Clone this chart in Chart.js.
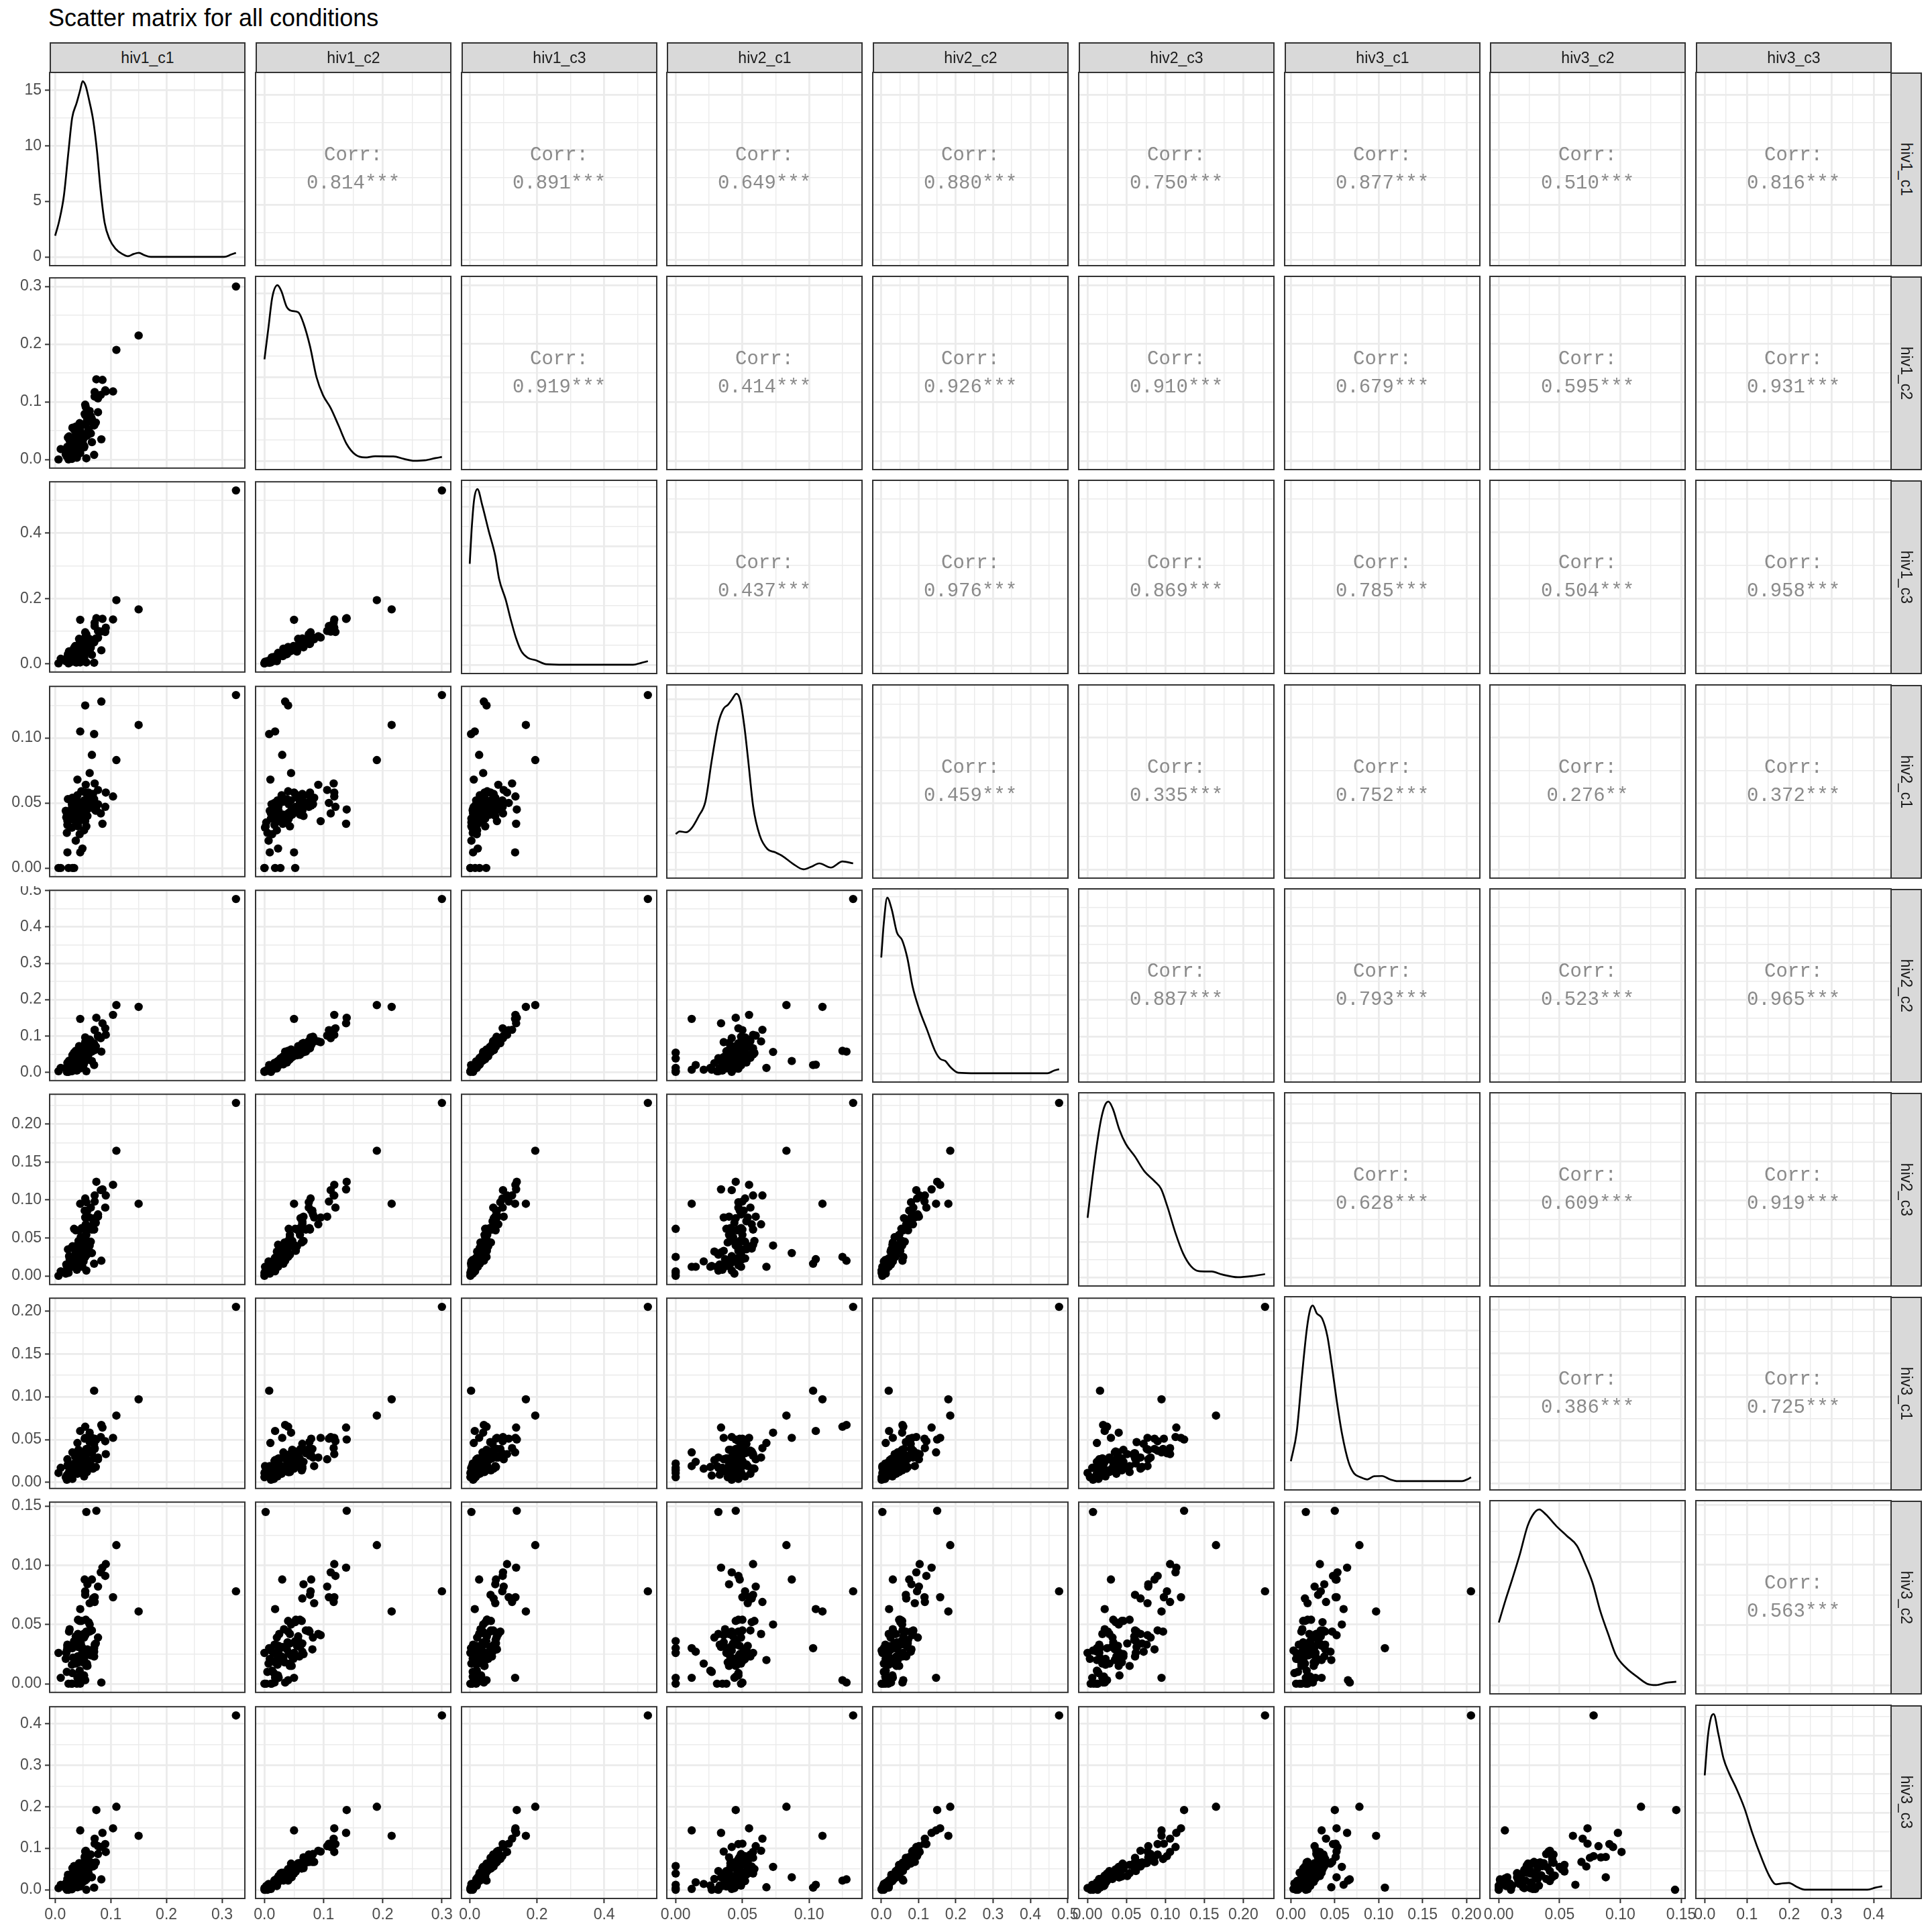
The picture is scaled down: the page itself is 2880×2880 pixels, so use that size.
<!DOCTYPE html>
<html><head><meta charset="utf-8">
<script src="https://cdn.jsdelivr.net/npm/chart.js@4.4.1/dist/chart.umd.min.js"></script>
<style>
html,body{margin:0;padding:0;background:#fff;}
#root{position:relative;width:2880px;height:2880px;background:#fff;overflow:hidden;font-family:"Liberation Sans",Arial,sans-serif;}
.title{position:absolute;left:72px;top:9px;font-size:36px;line-height:36px;color:#000;white-space:nowrap;}
.strip{position:absolute;background:#D9D9D9;border:2px solid #333;box-sizing:border-box;display:flex;align-items:center;justify-content:center;color:#1A1A1A;font-size:23px;}
.strip span{white-space:nowrap;display:block;}
.strip.r span{transform:rotate(90deg);}
canvas{position:absolute;}
</style></head>
<body><div id="root"><div class="title">Scatter matrix for all conditions</div></div>
<script>
// ---------------- DATA ----------------
const variables = ['hiv1_c1','hiv1_c2','hiv1_c3','hiv2_c1','hiv2_c2','hiv2_c3','hiv3_c1','hiv3_c2','hiv3_c3'];

const hiv1_c1 = [0.006,0.030,0.024,0.021,0.021,0.039,0.022,0.019,0.037,0.045,
 0.031,0.010,0.022,0.043,0.044,0.030,0.020,0.049,0.042,0.022,
 0.040,0.051,0.030,0.052,0.052,0.032,0.046,0.040,0.026,0.023,0.041,
 0.052,0.031,0.025,0.057,0.050,0.040,0.058,0.041,0.042,0.046,
 0.060,0.036,0.041,0.031,0.056,0.060,0.036,0.054,0.047,
 0.034,0.055,0.042,0.064,0.057,0.044,0.037,0.066,0.070,
 0.071,0.068,0.062,0.048,0.070,0.043,0.054,
 0.058,0.073,0.053,0.064,0.058,0.062,
 0.056,0.054,0.055,0.077,
 0.054,0.077,0.082,
 0.091,0.090,
 0.071,0.071,
 0.085,
 0.104,
 0.325,0.150,0.110,0.074,0.056,0.054,0.083,0.070,0.062,0.066,0.045,0.040,0.045];

const hiv1_c2 = [0.000,0.001,0.000,0.005,0.011,0.003,0.009,0.009,0.007,0.011,
 0.016,0.018,0.017,0.021,0.013,0.012,0.015,0.023,0.018,0.022,
 0.017,0.025,0.022,0.021,0.022,0.032,0.024,0.024,0.033,0.038,0.031,
 0.023,0.027,0.040,0.041,0.034,0.029,0.046,0.043,0.032,0.043,
 0.050,0.039,0.053,0.055,0.043,0.052,0.049,0.041,0.040,
 0.052,0.060,0.047,0.045,0.066,0.063,0.057,0.070,0.059,
 0.061,0.064,0.076,0.060,0.064,0.057,0.077,
 0.081,0.064,0.079,0.075,0.066,0.084,
 0.075,0.095,0.091,0.082,
 0.078,0.106,0.112,
 0.118,0.120,
 0.117,0.109,
 0.138,
 0.118,
 0.300,0.215,0.190,0.139,0.002,0.040,0.035,0.008,0.045,0.030,0.018,0.010,0.050];

const hiv1_c3 = [0.002,0.007,0.002,0.009,0.010,0.005,0.010,0.009,0.005,0.005,
 0.012,0.016,0.010,0.009,0.021,0.019,0.017,0.024,0.019,0.020,
 0.022,0.028,0.020,0.022,0.019,0.030,0.032,0.024,0.032,0.030,0.024,
 0.034,0.029,0.039,0.037,0.032,0.030,0.043,0.046,0.047,0.046,
 0.044,0.039,0.051,0.038,0.044,0.047,0.055,0.046,0.052,
 0.049,0.052,0.050,0.050,0.051,0.063,0.051,0.063,0.066,
 0.072,0.071,0.061,0.060,0.068,0.077,0.062,
 0.081,0.078,0.078,0.070,0.076,0.076,
 0.091,0.081,0.085,0.080,
 0.097,0.101,0.099,
 0.111,0.098,
 0.126,0.116,
 0.138,
 0.136,
 0.530,0.167,0.195,0.140,0.005,0.050,0.042,0.004,0.040,0.028,0.015,0.012,0.135];

const hiv2_c1 = [0.000,0.031,0.000,0.027,0.042,0.035,0.012,0.044,0.021,0.038,
 0.047,0.000,0.033,0.045,0.026,0.049,0.039,0.015,0.043,0.036,
 0.050,0.040,0.046,0.029,0.052,0.041,0.048,0.044,0.037,0.053,0.034,
 0.047,0.000,0.042,0.049,0.039,0.056,0.045,0.032,0.051,0.043,
 0.058,0.036,0.047,0.054,0.040,0.057,0.046,0.038,0.059,
 0.000,0.050,0.041,0.052,0.048,0.045,0.043,0.050,0.047,
 0.045,0.057,0.049,0.041,0.053,0.046,0.058,
 0.051,0.044,0.048,0.056,0.040,0.054,
 0.047,0.036,0.064,0.049,
 0.052,0.060,0.042,
 0.058,0.047,
 0.065,0.050,
 0.034,
 0.055,
 0.133,0.110,0.083,0.045,0.032,0.125,0.128,0.103,0.073,0.087,0.105,0.068,0.012];

const hiv2_c2 = [0.003,0.003,0.001,0.007,0.001,0.005,0.007,0.012,0.007,0.011,
 0.010,0.012,0.011,0.011,0.012,0.019,0.013,0.020,0.023,0.026,
 0.026,0.020,0.020,0.025,0.030,0.022,0.032,0.031,0.031,0.027,0.030,
 0.030,0.038,0.032,0.034,0.031,0.040,0.041,0.039,0.044,0.036,
 0.049,0.042,0.051,0.047,0.048,0.051,0.044,0.058,0.053,
 0.054,0.048,0.056,0.063,0.055,0.056,0.059,0.057,0.067,
 0.061,0.067,0.066,0.070,0.079,0.072,0.066,
 0.081,0.071,0.075,0.086,0.081,0.090,
 0.080,0.083,0.085,0.098,
 0.096,0.101,0.094,
 0.103,0.121,
 0.117,0.116,
 0.135,
 0.158,
 0.477,0.180,0.185,0.150,0.003,0.059,0.057,0.020,0.056,0.031,0.021,0.012,0.147];

const hiv2_c3 = [0.000,0.012,0.004,0.013,0.007,0.008,0.012,0.003,0.019,0.013,
 0.014,0.006,0.015,0.021,0.012,0.012,0.015,0.012,0.024,0.015,
 0.022,0.019,0.023,0.032,0.023,0.016,0.033,0.019,0.022,0.035,0.031,
 0.041,0.025,0.026,0.028,0.044,0.037,0.040,0.028,0.035,0.051,
 0.041,0.033,0.033,0.039,0.054,0.036,0.039,0.062,0.046,
 0.062,0.054,0.046,0.045,0.046,0.044,0.060,0.061,0.061,
 0.076,0.068,0.063,0.063,0.072,0.060,0.061,
 0.086,0.070,0.086,0.090,0.078,0.077,
 0.097,0.077,0.068,0.081,
 0.102,0.078,0.113,
 0.106,0.090,
 0.106,0.098,
 0.114,
 0.120,
 0.228,0.095,0.165,0.124,0.007,0.025,0.020,0.016,0.040,0.030,0.022,0.012,0.095];

const hiv3_c1 = [0.011,0.019,0.006,0.008,0.003,0.017,0.019,0.006,0.016,0.012,
 0.004,0.017,0.009,0.022,0.018,0.010,0.006,0.024,0.026,0.027,
 0.025,0.021,0.012,0.026,0.007,0.015,0.018,0.028,0.013,0.021,0.016,
 0.019,0.014,0.012,0.012,0.028,0.010,0.026,0.029,0.035,0.033,
 0.016,0.014,0.023,0.035,0.012,0.036,0.030,0.028,0.016,
 0.022,0.019,0.038,0.020,0.024,0.014,0.034,0.034,0.028,
 0.039,0.016,0.047,0.027,0.045,0.031,0.031,
 0.039,0.018,0.051,0.037,0.038,0.019,
 0.039,0.052,0.029,0.029,
 0.034,0.027,0.053,
 0.033,0.048,
 0.040,0.051,
 0.064,
 0.052,
 0.205,0.097,0.078,0.050,0.017,0.065,0.067,0.107,0.058,0.052,0.060,0.046,0.035];

const hiv3_c2 = [0.026,0.000,0.000,0.010,0.028,0.000,0.030,0.021,0.017,0.000,
 0.009,0.005,0.033,0.006,0.011,0.000,0.026,0.027,0.018,0.032,
 0.001,0.042,0.016,0.039,0.021,0.022,0.032,0.005,0.046,0.029,0.031,
 0.007,0.030,0.044,0.017,0.018,0.023,0.015,0.042,0.020,0.034,
 0.026,0.035,0.054,0.032,0.015,0.052,0.021,0.026,0.053,
 0.036,0.054,0.023,0.024,0.025,0.053,0.040,0.045,0.023,
 0.033,0.072,0.044,0.031,0.027,0.037,0.075,
 0.029,0.034,0.088,0.045,0.084,0.068,
 0.044,0.041,0.042,0.039,
 0.078,0.082,0.094,
 0.101,0.091,
 0.069,0.073,
 0.098,
 0.073,
 0.078,0.061,0.117,0.146,0.145,0.003,0.001,0.030,0.050,0.088,0.063,0.020,0.005];

const hiv3_c3 = [0.004,0.001,0.000,0.000,0.002,0.009,0.002,0.004,0.014,0.008,
 0.015,0.012,0.010,0.009,0.010,0.010,0.017,0.018,0.019,0.026,
 0.023,0.021,0.022,0.026,0.021,0.022,0.033,0.027,0.034,0.036,0.030,
 0.030,0.039,0.030,0.026,0.032,0.041,0.030,0.045,0.041,0.033,
 0.039,0.035,0.044,0.052,0.040,0.049,0.048,0.045,0.050,
 0.057,0.060,0.057,0.063,0.052,0.051,0.054,0.065,0.058,
 0.064,0.056,0.067,0.064,0.063,0.064,0.077,
 0.067,0.066,0.079,0.085,0.078,0.067,
 0.074,0.092,0.094,0.086,
 0.081,0.105,0.103,
 0.091,0.110,
 0.123,0.111,
 0.137,
 0.148,
 0.420,0.130,0.200,0.192,0.000,0.022,0.025,0.005,0.055,0.030,0.012,0.006,0.143];

// axis tick labels (major breaks) per variable
const tick_hiv1_c1 = ['0.0','0.1','0.2','0.3'];
const tick_hiv1_c2 = ['0.0','0.1','0.2','0.3'];
const tick_hiv1_c3 = ['0.0','0.2','0.4'];
const tick_hiv2_c1 = ['0.00','0.05','0.10'];
const tick_hiv2_c2 = ['0.0','0.1','0.2','0.3','0.4','0.5'];
const tick_hiv2_c3 = ['0.00','0.05','0.10','0.15','0.20'];
const tick_hiv3_c1 = ['0.00','0.05','0.10','0.15','0.20'];
const tick_hiv3_c2 = ['0.00','0.05','0.10','0.15'];
const tick_hiv3_c3 = ['0.0','0.1','0.2','0.3','0.4'];
const densTick_hiv1_c1 = ['0','5','10','15'];

// density curves (x, density)
const densX_hiv1_c1 = [0,0.0074,0.0156,0.0239,0.0305,0.0383,0.0444,0.0494,0.0547,0.061,0.0683,0.0753,0.0815,0.0889,0.098,0.108,0.1206,0.131,0.141,0.1506,0.16,0.172,0.20,0.25,0.3037,0.316,0.325];
const densY_hiv1_c1 = [1.9,3.27,5.47,9.48,12.5,13.8,14.9,15.8,15.4,14.1,12.3,9.48,6.08,3.07,1.56,0.76,0.26,0.06,0.26,0.36,0.16,0,0,0,0,0.2,0.36];
const densX_hiv1_c2 = [0,0.0066,0.0132,0.022,0.0286,0.0374,0.0454,0.0573,0.066,0.077,0.088,0.099,0.112,0.1256,0.139,0.154,0.17,0.187,0.218,0.236,0.253,0.271,0.289,0.30];
const densY_hiv1_c2 = [6.07,7.92,9.77,10.5,10.14,9.22,8.97,8.87,8.22,6.85,5.0,3.92,3.15,2.08,1.0,0.36,0.2,0.27,0.26,0.11,0.0,0.03,0.16,0.23];
const densX_hiv1_c3 = [0,0.0055,0.013,0.023,0.037,0.056,0.076,0.0875,0.107,0.1227,0.138,0.154,0.173,0.197,0.228,0.283,0.486,0.509,0.53];
const densY_hiv1_c3 = [6.38,8.49,10.43,11.1,10.1,8.49,6.87,5.41,4.11,2.8,1.67,0.84,0.44,0.28,0.03,0,0,0.11,0.23];
const densX_hiv2_c1 = [0,0.0029,0.0078,0.0116,0.0174,0.0223,0.0271,0.032,0.0359,0.0393,0.042,0.0455,0.0484,0.0514,0.0543,0.0581,0.063,0.0688,0.0746,0.0804,0.0882,0.0959,0.1017,0.1076,0.1163,0.125,0.133];
const densY_hiv2_c1 = [5.19,5.57,5.44,5.96,7.87,9.98,16.1,21.5,23.6,24.2,24.9,25.8,24.8,21.1,16.1,9.21,4.98,2.97,2.5,1.91,0.77,0,0.39,0.88,0.26,1.16,0.88];
const densX_hiv2_c2 = [0,0.007,0.016,0.028,0.042,0.056,0.07,0.084,0.102,0.123,0.144,0.158,0.172,0.186,0.207,0.256,0.446,0.463,0.477];
const densY_hiv2_c2 = [7.38,9.63,11.2,10.46,8.98,8.49,7.35,5.54,4.07,2.76,1.44,0.92,0.78,0.38,0.03,0,0,0.17,0.26];
const densX_hiv2_c3 = [0,0.0057,0.0124,0.0174,0.0224,0.0268,0.0325,0.0408,0.049,0.0609,0.0726,0.086,0.0944,0.1027,0.1128,0.1228,0.1329,0.143,0.1596,0.173,0.193,0.213,0.228];
const densY_hiv2_c3 = [4.19,6.78,9.52,11.16,12.15,12.4,11.89,10.43,9.42,8.52,7.51,6.78,6.24,4.96,3.14,1.67,0.77,0.43,0.4,0.19,0,0.09,0.22];
const densX_hiv3_c1 = [0,0.0067,0.0127,0.0182,0.0218,0.0249,0.0294,0.0355,0.0416,0.0461,0.0522,0.0583,0.0658,0.0719,0.0795,0.0871,0.0947,0.1038,0.1129,0.122,0.1948,0.2008,0.205];
const densY_hiv3_c1 = [2.63,6.57,14.07,20.22,22.69,23.3,22.27,21.6,19.2,15.77,10.65,6.22,2.47,1.03,0.51,0.23,0.65,0.68,0.23,0,0,0.23,0.51];
const densX_hiv3_c2 = [0,0.0056,0.0109,0.0173,0.0237,0.029,0.0333,0.0387,0.0472,0.0558,0.0643,0.0707,0.0771,0.0835,0.09,0.0964,0.1049,0.1135,0.122,0.1295,0.138,0.146];
const densY_hiv3_c2 = [5.09,6.94,8.57,10.64,12.96,14.0,14.3,13.89,12.96,12.16,11.34,9.95,8.34,6.02,4.16,2.43,1.39,0.7,0.11,0,0.19,0.27];
const densX_hiv3_c3 = [0,0.0074,0.0149,0.0211,0.0322,0.0446,0.057,0.0755,0.0941,0.1127,0.1344,0.1529,0.1684,0.1839,0.1994,0.218,0.2365,0.385,0.4037,0.42];
const densY_hiv3_c3 = [7.42,9.93,11.18,11.4,10.11,8.5,7.6,6.53,5.28,3.67,2.06,0.89,0.35,0.41,0.44,0.18,0,0,0.13,0.22];

// correlation labels (upper triangle, per row variable vs later variables)
const corr_hiv1_c1 = ['0.814***','0.891***','0.649***','0.880***','0.750***','0.877***','0.510***','0.816***'];
const corr_hiv1_c2 = ['0.919***','0.414***','0.926***','0.910***','0.679***','0.595***','0.931***'];
const corr_hiv1_c3 = ['0.437***','0.976***','0.869***','0.785***','0.504***','0.958***'];
const corr_hiv2_c1 = ['0.459***','0.335***','0.752***','0.276**','0.372***'];
const corr_hiv2_c2 = ['0.887***','0.793***','0.523***','0.965***'];
const corr_hiv2_c3 = ['0.628***','0.609***','0.919***'];
const corr_hiv3_c1 = ['0.386***','0.725***'];
const corr_hiv3_c2 = ['0.563***'];

// ---------------- BUILD ----------------
const values = {hiv1_c1,hiv1_c2,hiv1_c3,hiv2_c1,hiv2_c2,hiv2_c3,hiv3_c1,hiv3_c2,hiv3_c3};
const ticks = {hiv1_c1:tick_hiv1_c1,hiv1_c2:tick_hiv1_c2,hiv1_c3:tick_hiv1_c3,hiv2_c1:tick_hiv2_c1,hiv2_c2:tick_hiv2_c2,hiv2_c3:tick_hiv2_c3,hiv3_c1:tick_hiv3_c1,hiv3_c2:tick_hiv3_c2,hiv3_c3:tick_hiv3_c3};
const densX = {hiv1_c1:densX_hiv1_c1,hiv1_c2:densX_hiv1_c2,hiv1_c3:densX_hiv1_c3,hiv2_c1:densX_hiv2_c1,hiv2_c2:densX_hiv2_c2,hiv2_c3:densX_hiv2_c3,hiv3_c1:densX_hiv3_c1,hiv3_c2:densX_hiv3_c2,hiv3_c3:densX_hiv3_c3};
const densY = {hiv1_c1:densY_hiv1_c1,hiv1_c2:densY_hiv1_c2,hiv1_c3:densY_hiv1_c3,hiv2_c1:densY_hiv2_c1,hiv2_c2:densY_hiv2_c2,hiv2_c3:densY_hiv2_c3,hiv3_c1:densY_hiv3_c1,hiv3_c2:densY_hiv3_c2,hiv3_c3:densY_hiv3_c3};
const corrs = {hiv1_c1:corr_hiv1_c1,hiv1_c2:corr_hiv1_c2,hiv1_c3:corr_hiv1_c3,hiv2_c1:corr_hiv2_c1,hiv2_c2:corr_hiv2_c2,hiv2_c3:corr_hiv2_c3,hiv3_c1:corr_hiv3_c1,hiv3_c2:corr_hiv3_c2};

const N = variables.length;
const P_X0 = 74, P_DX = 306.75, P_W = 291, P_Y0 = 108, P_DY = 304.2, P_H = 288;
const panelLeft = c => Math.round(P_X0 + P_DX * c);
const panelTop = r => Math.round(P_Y0 + P_DY * r);
const root = document.getElementById('root');

function extent(arr){
  const lo = Math.min(...arr), hi = Math.max(...arr), e = (hi - lo) * 0.05;
  return [lo - e, hi + e];
}
function breaksFromLabels(labels, lo, hi){
  const all = labels.map(Number);
  const step = all[1] - all[0];
  const maj = [], lab = [];
  all.forEach((v,i)=>{ if (v >= lo - 1e-9 && v <= hi + 1e-9){ maj.push(v); lab.push(labels[i]); } });
  const min = [];
  for (let k = -2; k < all.length + 2; k++){
    const v = +(all[0] + (k + 0.5) * step).toFixed(6);
    if (v >= lo && v <= hi) min.push(v);
  }
  return {maj, min, labels: lab};
}
function niceStep(lo, hi){
  let best = null;
  for (let e = -4; e <= 3; e++){
    for (const m of [1,2,2.5,5]){
      const s = m * Math.pow(10, e);
      const n = Math.floor(hi / s) - Math.ceil(lo / s) + 1;
      if (n < 3 || n > 7) continue;
      const score = Math.abs(n - 5) + (m === 2.5 ? 0.5 : 0);
      if (!best || score < best.score) best = {s, score};
    }
  }
  return best ? best.s : (hi - lo) / 4;
}
function densBreaks(lo, hi){
  const s = niceStep(lo, hi);
  const maj = [], min = [];
  for (let k = Math.ceil(lo / s); k * s <= hi + 1e-9; k++) maj.push(+(k * s).toFixed(6));
  for (let k = Math.floor(lo / s) - 1; (k + 0.5) * s <= hi; k++){
    const v = +((k + 0.5) * s).toFixed(6);
    if (v >= lo) min.push(v);
  }
  return {maj, min, labels: maj.map(String)};
}
function scaleCfg(axis, lo, hi, br, showLabels, size){
  const isMaj = v => br.maj.some(m => Math.abs(m - v) < 1e-9);
  return {
    type: 'linear', min: lo, max: hi, display: true,
    afterBuildTicks(s){ s.ticks = br.maj.concat(br.min).sort((a,b)=>a-b).map(v => ({value: v})); },
    afterFit(s){
      if (axis === 'x') s.height = size; else s.width = size;
      s.paddingLeft = 0; s.paddingRight = 0; s.paddingTop = 0; s.paddingBottom = 0;
    },
    grid: {
      display: true, drawOnChartArea: true, color: '#EBEBEB',
      lineWidth: c => (c.tick && isMaj(c.tick.value)) ? 2.8 : 1.4,
      drawTicks: showLabels, tickLength: 7, tickWidth: 2,
      tickColor: c => (c.tick && isMaj(c.tick.value)) ? '#333333' : 'rgba(0,0,0,0)'
    },
    border: {display: false},
    ticks: {
      display: showLabels, autoSkip: false, maxRotation: 0, minRotation: 0,
      padding: axis === 'x' ? 4 : 5, color: '#4D4D4D',
      font: {family: '"Liberation Sans", Arial, sans-serif', size: 23},
      callback: v => { const i = br.maj.findIndex(m => Math.abs(m - v) < 1e-9); return i >= 0 ? br.labels[i] : ''; }
    }
  };
}

const panelPlugin = {
  id: 'panel',
  beforeDraw(chart){
    const {ctx, chartArea: a} = chart;
    ctx.save(); ctx.fillStyle = '#FFFFFF';
    ctx.fillRect(a.left, a.top, a.right - a.left, a.bottom - a.top);
    ctx.restore();
  },
  afterDraw(chart){
    const {ctx, chartArea: a} = chart;
    const o = chart.options.plugins.panel || {};
    ctx.save();
    if (o.corr){
      const cx = (a.left + a.right) / 2, cy = (a.top + a.bottom) / 2;
      ctx.fillStyle = '#8A8A8A';
      ctx.font = '29px "Liberation Mono", "DejaVu Sans Mono", monospace';
      ctx.textAlign = 'center'; ctx.textBaseline = 'middle';
      ctx.fillText('Corr:', cx, cy - 21);
      ctx.fillText(o.corr, cx, cy + 21);
    }
    ctx.strokeStyle = '#333333'; ctx.lineWidth = 2;
    ctx.strokeRect(a.left, a.top, a.right - a.left, a.bottom - a.top);
    ctx.restore();
  }
};

for (let r = 0; r < N; r++){
  for (let c = 0; c < N; c++){
    const xv = variables[c], yv = variables[r];
    const [xlo, xhi] = extent(values[xv]);
    const xb = breaksFromLabels(ticks[xv], xlo, xhi);
    let ylo, yhi, yb, datasets = [], corr = null;
    if (r === c){
      const dy = densY[xv];
      [ylo, yhi] = extent(dy);
      yb = (r === 0) ? breaksFromLabels(densTick_hiv1_c1, ylo, yhi) : densBreaks(ylo, yhi);
      datasets = [{data: densX[xv].map((x,i)=>({x, y: dy[i]})), showLine: true, pointRadius: 0,
        borderColor: '#000000', borderWidth: 2.7, cubicInterpolationMode: 'monotone', fill: false}];
    } else {
      [ylo, yhi] = extent(values[yv]);
      yb = breaksFromLabels(ticks[yv], ylo, yhi);
      if (r > c){
        datasets = [{data: values[xv].map((x,i)=>({x, y: values[yv][i]})), pointRadius: 6.2,
          pointBackgroundColor: '#000000', backgroundColor: '#000000', pointBorderWidth: 0, borderWidth: 0}];
      } else {
        corr = corrs[yv][c - r - 1];
      }
    }
    const L = c === 0 ? 74 : 30, R = 30, T = 4, B = r === N - 1 ? 50 : 4;
    const left = panelLeft(c) - L, top = panelTop(r) - T;
    const w = P_W + L + R, h = P_H + T + B;
    const cv = document.createElement('canvas');
    cv.width = w; cv.height = h;
    cv.style.left = left + 'px'; cv.style.top = top + 'px';
    cv.style.width = w + 'px'; cv.style.height = h + 'px';
    root.appendChild(cv);
    new Chart(cv.getContext('2d'), {
      type: 'scatter',
      data: {datasets},
      plugins: [panelPlugin],
      options: {
        responsive: false, animation: false, devicePixelRatio: 1, events: [],
        layout: {padding: {left: c === 0 ? 0 : L, right: R, top: T, bottom: r === N - 1 ? 0 : B}},
        plugins: {legend: {display: false}, tooltip: {enabled: false}, panel: {corr}},
        scales: {
          x: scaleCfg('x', xlo, xhi, xb, r === N - 1, r === N - 1 ? 50 : 0),
          y: scaleCfg('y', ylo, yhi, yb, c === 0, c === 0 ? 74 : 0)
        }
      }
    });
  }
}

// strips
variables.forEach((v, c) => {
  const d = document.createElement('div');
  d.className = 'strip';
  d.style.left = panelLeft(c) + 'px'; d.style.top = '63px';
  d.style.width = (P_W + 1) + 'px'; d.style.height = '46px';
  d.innerHTML = '<span>' + v + '</span>';
  root.appendChild(d);
});
variables.forEach((v, r) => {
  const d = document.createElement('div');
  d.className = 'strip r';
  d.style.left = (panelLeft(N - 1) + P_W - 1) + 'px'; d.style.top = panelTop(r) + 'px';
  d.style.width = '47px'; d.style.height = (P_H + 1) + 'px';
  d.innerHTML = '<span>' + v + '</span>';
  root.appendChild(d);
});
</script>
</body></html>
